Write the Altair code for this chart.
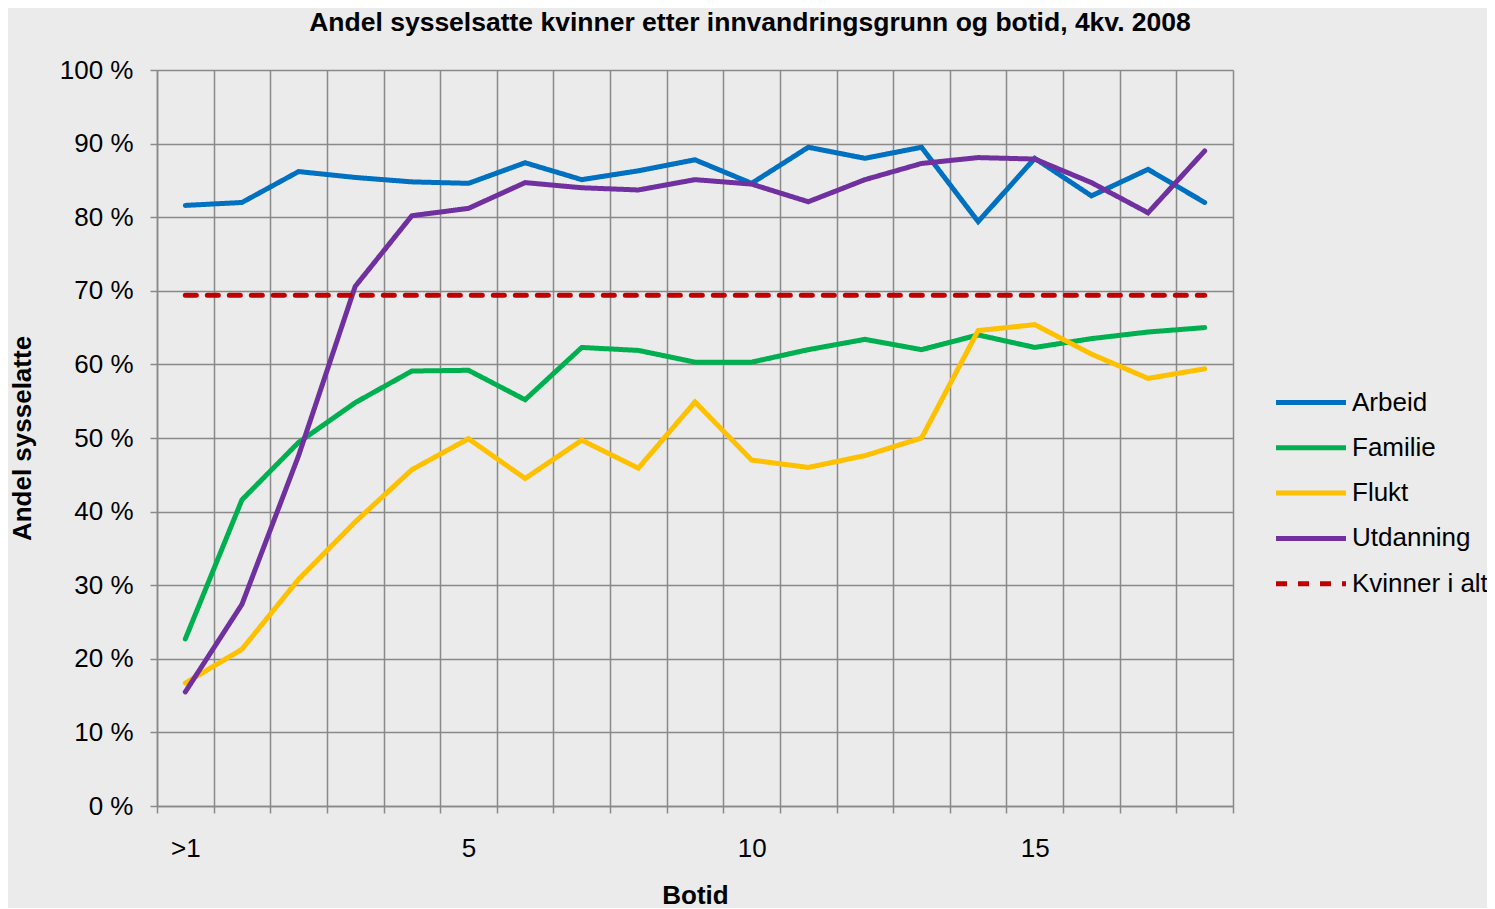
import altair as alt
import pandas as pd

# ---- data ----
botid = [">1", "1", "2", "3", "4", "5", "6", "7", "8", "9", "10",
         "11", "12", "13", "14", "15", "16", "17", "18"]
arbeid = [81.6, 82.0, 86.2, 85.4, 84.8, 84.6, 87.4, 85.1, 86.3, 87.8,
          84.6, 89.5, 88.0, 89.5, 79.4, 88.0, 82.9, 86.5, 82.0]
familie = [22.7, 41.6, 49.4, 54.8, 59.1, 59.2, 55.2, 62.3, 61.9, 60.3,
           60.3, 62.0, 63.4, 62.0, 64.0, 62.3, 63.5, 64.4, 65.0]
flukt = [16.7, 21.3, 30.8, 38.6, 45.7, 49.9, 44.5, 49.7, 45.9, 54.9,
         47.0, 46.0, 47.6, 50.0, 64.6, 65.4, 61.4, 58.1, 59.4]
utdanning = [15.5, 27.4, 47.6, 70.6, 80.2, 81.2, 84.7, 84.0, 83.7, 85.1,
             84.5, 82.1, 85.1, 87.3, 88.1, 87.9, 84.7, 80.6, 89.0]
kvinner_i_alt = [69.4, 69.4, 69.4, 69.4, 69.4, 69.4, 69.4, 69.4, 69.4, 69.4,
                 69.4, 69.4, 69.4, 69.4, 69.4, 69.4, 69.4, 69.4, 69.4]

series_names = ["Arbeid", "Familie", "Flukt", "Utdanning", "Kvinner i alt"]
series_values = [arbeid, familie, flukt, utdanning, kvinner_i_alt]
series_colors = ["#0070C0", "#00B050", "#FFC000", "#7030A0", "#C00000"]
series_dash = [[1, 0], [1, 0], [1, 0], [1, 0], [11, 11]]

rows = []
for name, vals in zip(series_names, series_values):
    for i, (lab, v) in enumerate(zip(botid, vals)):
        rows.append({"idx": i, "botid": lab, "serie": name, "andel": v})
df = pd.DataFrame(rows)

n = len(botid)
boundaries = [i - 0.5 for i in range(n + 1)]
W, H = 1076, 736
band = W / n
GRID = "#898989"
FONT = "Liberation Sans"

chart = alt.Chart(df).mark_line(strokeWidth=5, strokeCap="round").encode(
    x=alt.X("idx:Q",
            scale=alt.Scale(domain=[-0.5, n - 0.5], nice=False, zero=False),
            axis=alt.Axis(values=boundaries, grid=True,
                          labelExpr="datum.value == -0.5 ? '>1' : ((datum.value + 0.5) % 5 == 0 ? format(datum.value + 0.5, 'd') : '')",
                          labelOffset=band / 2, labelPadding=22, labelOverlap=False,
                          labelFlush=False, labelBaseline="top",
                          title="Botid", titleX=W / 2, titleY=89,
                          titleBaseline="middle", titleAlign="center")),
    y=alt.Y("andel:Q",
            scale=alt.Scale(domain=[0, 100], nice=False),
            axis=alt.Axis(values=list(range(0, 101, 10)), grid=True,
                          labelExpr="datum.value + ' %'", labelPadding=17,
                          title="Andel sysselatte", titleX=-135, titleY=H / 2,
                          titleAngle=270, titleBaseline="middle", titleAlign="center")),
    color=alt.Color("serie:N",
                    scale=alt.Scale(domain=series_names, range=series_colors),
                    legend=alt.Legend(title=None)),
    strokeDash=alt.StrokeDash("serie:N",
                              scale=alt.Scale(domain=series_names, range=series_dash),
                              legend=alt.Legend(title=None)),
    order=alt.Order("idx:Q"),
).properties(
    width=W, height=H,
    title=alt.TitleParams(
        "Andel sysselsatte kvinner etter innvandringsgrunn og botid, 4kv. 2008",
        anchor="middle", dx=55, offset=21, fontSize=26.5, fontWeight="bold",
        font=FONT, color="#000000"),
    autosize=alt.AutoSizeParams(type="none"),
    padding={"left": 149, "top": 62, "right": 254, "bottom": 102},
).configure(
    background="#EBEBEB",
).configure_view(
    stroke=None, fill="#EBEBEB",
).configure_axis(
    gridColor=GRID, gridWidth=1.5, gridOpacity=1,
    domainColor=GRID, domainWidth=1.5,
    tickColor=GRID, tickWidth=1.5, tickSize=7,
    labelFont=FONT, labelFontSize=26, labelColor="#000000",
    titleFont=FONT, titleFontSize=26, titleFontWeight="bold", titleColor="#000000",
).configure_legend(
    orient="none", legendX=1136.5, legendY=315,
    labelFont=FONT, labelFontSize=26, labelColor="#000000",
    symbolType="M-2.333,0L2.333,0", symbolSize=900, symbolStrokeWidth=5,
    rowPadding=14.3, labelOffset=23.5, padding=0,
)

chart.save("out.html", embed_options={"renderer": "svg", "actions": False})
